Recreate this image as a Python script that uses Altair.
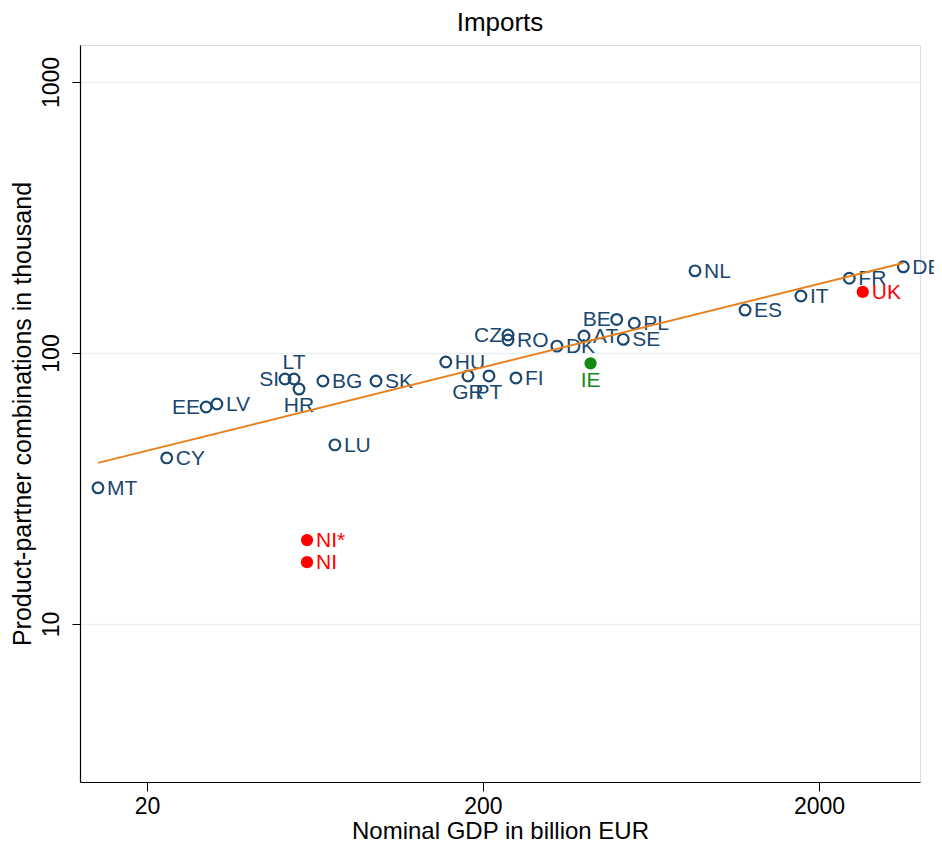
import altair as alt
import pandas as pd

# Blue (EU) countries
countries = ["MT", "CY", "EE", "LV", "SI", "LT", "HR", "BG", "SK", "LU", "HU", "GR", "PT", "FI",
             "CZ", "RO", "DK", "AT", "BE", "PL", "SE", "NL", "ES", "IT", "FR", "DE"]
gdp = [14.3, 22.9, 30.0, 32.3, 51.5, 54.8, 56.7, 66.8, 96.1, 72.5, 155, 180.5, 208.4, 250.7,
       237.4, 237.4, 332, 399.6, 500, 564, 523, 855, 1205, 1767, 2462, 3565]
combos = [31.8, 41.0, 63.2, 64.8, 80.2, 80.2, 73.6, 78.8, 78.8, 45.8, 92.6, 82.3, 82.3, 80.9,
          116.5, 111.7, 106, 115.5, 133, 128.7, 112.3, 201, 144, 162.3, 188.7, 208]
# Label clock positions (Stata style)
label_pos = [3, 3, 9, 3, 9, 12, 6, 3, 3, 3, 3, 6, 6, 3,
             9, 3, 3, 3, 9, 3, 3, 3, 3, 3, 3, 3]

# Highlighted red points
red_names = ["UK", "NI*", "NI"]
red_gdp = [2699, 59.9, 59.9]
red_combos = [168, 20.4, 16.9]

# Highlighted green point
green_names = ["IE"]
green_gdp = [418]
green_combos = [91.6]

# Fitted line endpoints
fit_gdp = [14.3, 3565]
fit_combos = [39.3, 215]

NAVY = "#1a476f"
ORANGE = "#e8821e"
RED = "#ff0000"
GREEN = "#138a13"
FONT = "Liberation Sans"
LBL = 21

blue = pd.DataFrame({"name": countries, "gdp": gdp, "combos": combos, "pos": label_pos})
red = pd.DataFrame({"name": red_names, "gdp": red_gdp, "combos": red_combos})
green = pd.DataFrame({"name": green_names, "gdp": green_gdp, "combos": green_combos})
fit = pd.DataFrame({"gdp": fit_gdp, "combos": fit_combos})

xscale = alt.Scale(type="log", domain=[12.64, 3996], nice=False)
yscale = alt.Scale(type="log", domain=[2.61, 1370], nice=False)

X = alt.X("gdp:Q", scale=xscale,
          axis=alt.Axis(title="Nominal GDP in billion EUR", values=[20, 200, 2000], format="d",
                        grid=False, domain=True, domainColor="black", domainWidth=1.2,
                        tickColor="black", tickSize=9, labelFontSize=23, labelFont=FONT,
                        labelColor="black", labelPadding=4, titleFontSize=24, titleFont=FONT,
                        titleFontWeight="normal", titleColor="black", titlePadding=1,
                        labelFlush=False))
Y = alt.Y("combos:Q", scale=yscale,
          axis=alt.Axis(title="Product-partner combinations in thousand", values=[10, 100, 1000],
                        format="d", grid=True, gridColor="#eaf2f3", gridWidth=1.5,
                        domain=True, domainColor="black", domainWidth=1.2,
                        tickColor="black", tickSize=8, labelFontSize=23, labelFont=FONT,
                        labelColor="black", labelAngle=-90, labelAlign="center",
                        labelBaseline="bottom", labelPadding=9, titleFontSize=25, titleFont=FONT,
                        titleFontWeight="normal", titleColor="black", titlePadding=5,
                        labelFlush=False))

base_blue = alt.Chart(blue)

pts_blue = base_blue.mark_point(shape="circle", filled=False, size=115, strokeWidth=2.2,
                                color=NAVY, opacity=1).encode(x=X, y=Y)

def lbl(pos, **kw):
    return base_blue.transform_filter(alt.datum.pos == pos).mark_text(
        font=FONT, fontSize=LBL, color=NAVY, **kw).encode(x=X, y=Y, text="name:N")

lbl3 = lbl(3, align="left", baseline="middle", dx=9, dy=1)
lbl9 = lbl(9, align="right", baseline="middle", dx=-6, dy=1)
lbl12 = lbl(12, align="center", baseline="bottom", dy=-6)
lbl6 = lbl(6, align="center", baseline="top", dy=6)

fit_line = alt.Chart(fit).mark_line(color=ORANGE, strokeWidth=2).encode(x=X, y=Y)

pts_red = alt.Chart(red).mark_point(shape="circle", filled=True, size=150, color=RED,
                                    opacity=1).encode(x=X, y=Y)
lbl_red = alt.Chart(red).mark_text(font=FONT, fontSize=LBL, color=RED, align="left",
                                   baseline="middle", dx=9, dy=1).encode(x=X, y=Y, text="name:N")

pts_green = alt.Chart(green).mark_point(shape="circle", filled=True, size=150, color=GREEN,
                                        opacity=1).encode(x=X, y=Y)
lbl_green = alt.Chart(green).mark_text(font=FONT, fontSize=LBL, color=GREEN, align="center",
                                       baseline="top", dy=7).encode(x=X, y=Y, text="name:N")

chart = alt.layer(
    pts_blue, lbl3, lbl9, lbl12, lbl6, fit_line, pts_red, lbl_red, pts_green, lbl_green
).properties(
    width=840, height=737,
    title=alt.TitleParams("Imports", font=FONT, fontSize=26, fontWeight="normal",
                          color="black", anchor="middle", offset=9),
    autosize=alt.AutoSizeParams(type="none"),
    padding={"left": 72, "top": 37, "right": 14, "bottom": 60},
).configure_view(stroke=None).configure(background="white")

chart.save("out.html", embed_options={"renderer": "svg", "actions": False})
